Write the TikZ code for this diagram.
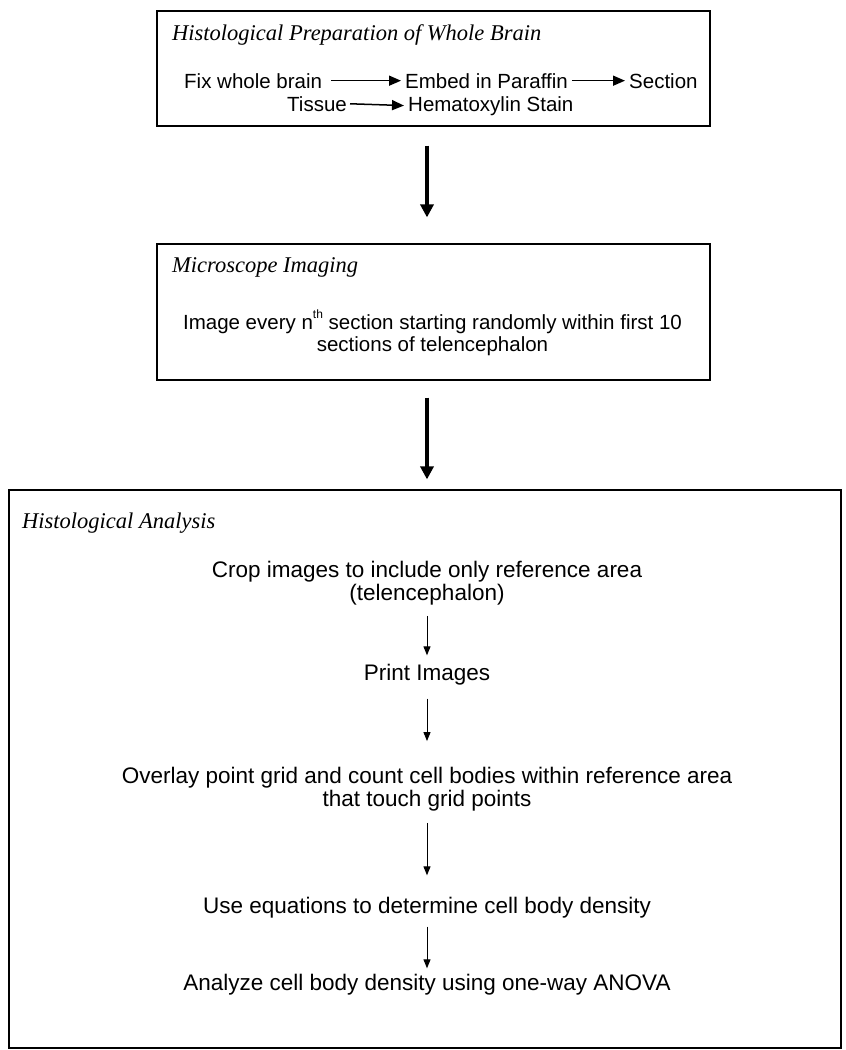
\documentclass[tikz,border=0pt]{standalone}
\usepackage{fontspec}
\setmainfont{Liberation Sans}
\newfontfamily\titlefont{Liberation Serif}
\usetikzlibrary{arrows.meta,positioning}

\newcommand\supth{\raisebox{0.55em}{\fontsize{12}{12}\selectfont th}}

\begin{document}
\begin{tikzpicture}[x=1pt,y=-1pt,
	frame/.style={draw, line width=1.2pt, inner sep=0pt},
	heading/.style={anchor=base west, inner sep=0pt, font=\titlefont\itshape\fontsize{22.5}{26}\selectfont},
	body/.style={inner sep=0pt, align=center, font=\fontsize{20.5}{22}\selectfont},
	bigbody/.style={inner sep=0pt, align=center, font=\fontsize{22.5}{22.5}\selectfont},
	word/.style={anchor=base west, inner sep=0pt, font=\fontsize{20.5}{22}\selectfont},
	inline/.style={-{Triangle[length=12pt,width=10pt]}, line width=1.5pt, shorten <=4pt, shorten >=4pt},
	bigarrow/.style={-{Triangle[length=13pt,width=13pt]}, line width=4pt},
	smallarrow/.style={-{Triangle[length=9pt,width=7pt]}, line width=1pt}]

	% ---- page

	\useasboundingbox (0,0) rectangle (846,1050);

	% ---- boxes

	\node[frame, minimum width=553pt, minimum height=115pt] (prep) at (433.5,68.5) {};
	\node[frame, minimum width=553pt, minimum height=136pt] (micro) at (433.5,312) {};
	\node[frame, minimum width=832pt, minimum height=558pt] (anal) at (425,769) {};

	% ---- headings

	\node[heading] (hprep) at (172,40) {Histological Preparation of Whole Brain};
	\node[heading] (hmicro) at (172,272) {Microscope Imaging};
	\node[heading] (hanal) at (22,528) {Histological Analysis};

	% ---- preparation steps

	\node[word] (fix) at (184,88) {Fix whole brain};
	\node[word] (embed) at (405,88) {Embed in Paraffin};
	\node[word] (sect) at (629,88) {Section};
	\node[word] (tissue) at (287,111) {Tissue};
	\node[word] (stain) at (408,111) {Hematoxylin Stain};

	\draw[inline, shorten <=9pt] (fix.east) -- (embed.west);
	\draw[inline] (embed.east) -- (sect.west);
	\draw[inline, shorten <=3pt] (tissue.east) -- (stain.west);

	% ---- imaging

	\node[body] (image) at (432.5,333) {Image every n\supth{} section starting randomly within first 10\\sections of telencephalon};

	% ---- analysis steps

	\node[bigbody] (crop) at (427,583) {Crop images to include only reference area\\(telencephalon)};
	\node[bigbody] (print) at (427,675) {Print Images};
	\node[bigbody] (overlay) at (427,789) {Overlay point grid and count cell bodies within reference area\\that touch grid points};
	\node[bigbody] (equ) at (427,908) {Use equations to determine cell body density};
	\node[bigbody] (anova) at (427,985) {Analyze cell body density using one-way ANOVA};

	\draw[smallarrow, shorten <=11pt, shorten >=9pt] (crop.south) -- (print.north);
	\draw[smallarrow, shorten <=13pt, shorten >=26pt] (print.south) -- (overlay.north);
	\draw[smallarrow, shorten <=12pt, shorten >=22pt] (overlay.south) -- (equ.north);
	\draw[smallarrow, shorten <=8pt, shorten >=6pt] (equ.south) -- (anova.north);

	% ---- big arrows

	\draw[bigarrow, shorten <=19pt, shorten >=26pt] (prep.south -| 427,0) -- (micro.north -| 427,0);
	\draw[bigarrow, shorten <=17pt, shorten >=10pt] (micro.south -| 427,0) -- (anal.north -| 427,0);

\end{tikzpicture}
\end{document}
